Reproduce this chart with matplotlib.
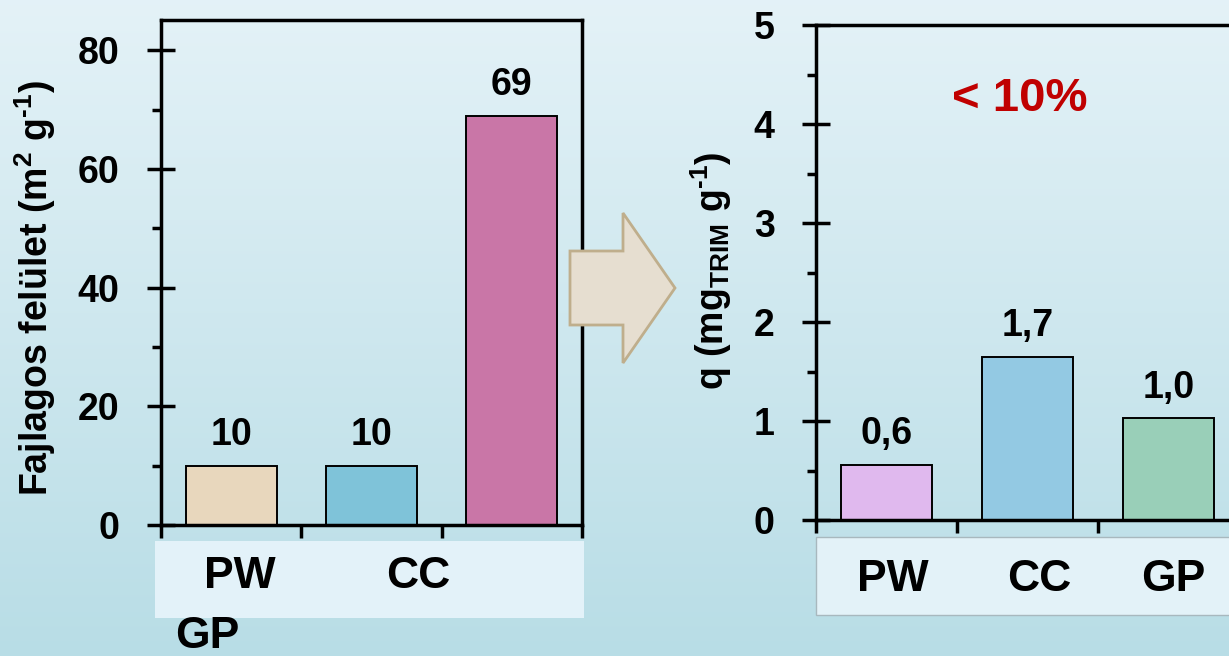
import matplotlib
matplotlib.use("Agg")
import matplotlib.pyplot as plt
import matplotlib.transforms as mtransforms
import numpy as np
from matplotlib.patches import Rectangle, Polygon

plt.rcParams['font.family'] = ['Liberation Sans', 'DejaVu Sans']
plt.rcParams['font.weight'] = 'bold'
plt.rcParams['mathtext.fontset'] = 'custom'
plt.rcParams['mathtext.rm'] = 'Liberation Sans:bold'
plt.rcParams['mathtext.bf'] = 'Liberation Sans:bold'
plt.rcParams['mathtext.it'] = 'Liberation Sans:bold'
plt.rcParams['mathtext.default'] = 'bf'

# data
cats = ["PW", "CC", "GP"]
surface = [10, 10, 69]
surface_labels = ["10", "10", "69"]
q_values = [0.56, 1.65, 1.03]
q_labels = ["0,6", "1,7", "1,0"]
colors_left = ["#e8d7bd", "#7fc3d9", "#c976a7"]
colors_right = ["#e0b9ee", "#93c9e3", "#99cfb8"]

W, H = 1229, 656
fig = plt.figure(figsize=(W / 100, H / 100), dpi=100)


def fx(px):
    return px / W


def fy(py):
    return 1 - py / H


# gradient background
bg = fig.add_axes([0, 0, 1, 1], zorder=-10)
top = np.array([0.894, 0.949, 0.969])
bot = np.array([0.722, 0.867, 0.902])
t = np.linspace(0, 1, 256)[:, None]
grad = top[None, :] * (1 - t) + bot[None, :] * t
bg.imshow(grad[:, None, :], aspect='auto', extent=[0, 1, 0, 1])
bg.axis('off')

LW = 2.5
x = np.arange(len(cats))

# left chart
ax1 = fig.add_axes([fx(161), fy(525), fx(582) - fx(161), fy(20) - fy(525)])
ax1.patch.set_alpha(0)
ax1.bar(x, surface, width=0.65, color=colors_left, edgecolor='black', linewidth=1.4)
for i, (v, lbl) in enumerate(zip(surface, surface_labels)):
    ax1.annotate(lbl, (i, v), xytext=(0, 9), textcoords='offset points',
                 ha='center', va='bottom', fontsize=27, fontweight='bold')
ax1.set_xlim(-0.5, 2.5)
ax1.set_ylim(0, 85.1)
ax1.set_yticks([0, 20, 40, 60, 80])
ax1.set_yticks([10, 30, 50, 70], minor=True)
ax1.set_xticks([-0.5, 0.5, 1.5, 2.5])
ax1.set_xticklabels([])

# right chart
ax2 = fig.add_axes([fx(816), fy(520), fx(1239) - fx(816), fy(25) - fy(520)])
ax2.patch.set_alpha(0)
ax2.bar(x, q_values, width=0.645, color=colors_right, edgecolor='black', linewidth=1.4)
for i, (v, lbl) in enumerate(zip(q_values, q_labels)):
    ax2.annotate(lbl, (i, v), xytext=(0, 9), textcoords='offset points',
                 ha='center', va='bottom', fontsize=27, fontweight='bold')
ax2.set_xlim(-0.5, 2.5)
ax2.set_ylim(0, 5)
ax2.set_yticks([0, 1, 2, 3, 4, 5])
ax2.set_yticks([0.5, 1.5, 2.5, 3.5, 4.5], minor=True)
ax2.set_xticks(x)
ax2.set_xticklabels(cats)
ax2.set_xticks([-0.5, 0.5, 1.5, 2.5], minor=True)

for ax in (ax1, ax2):
    for s in ax.spines.values():
        s.set_linewidth(LW)
    ax.tick_params(axis='y', which='major', direction='inout', length=19.5, width=LW,
                   pad=20, labelsize=27)
    ax.tick_params(axis='y', which='minor', direction='out', length=6.5, width=LW)

ax1.tick_params(axis='x', which='major', direction='out', length=9.4, width=LW)
ax2.tick_params(axis='x', which='major', length=0, pad=28, labelsize=32)
ax2.tick_params(axis='x', which='minor', direction='out', length=9.4, width=LW)

# the labels sit a little right of the bar centres in the original
for lab, dx in zip(ax2.get_xticklabels(), [6, 12, 5]):
    lab.set_transform(lab.get_transform() +
                      mtransforms.ScaledTranslation(dx / 100, 0, fig.dpi_scale_trans))

# label boxes under the axes
fig.patches.append(Rectangle((fx(155), fy(618)), fx(584) - fx(155), fy(541) - fy(618),
                             transform=fig.transFigure, facecolor='#e3f2f9',
                             edgecolor='none', zorder=-1))
fig.patches.append(Rectangle((fx(816), fy(615)), fx(1240) - fx(816), fy(537) - fy(615),
                             transform=fig.transFigure, facecolor='#e3f2f8',
                             edgecolor='#a8b8be', linewidth=1, zorder=-1))

# left category labels (wrapped in the original)
fig.text(fx(240), fy(577), cats[0], ha='center', va='center', fontsize=32, fontweight='bold')
fig.text(fx(418), fy(577), cats[1], ha='center', va='center', fontsize=32, fontweight='bold')
fig.text(fx(207), fy(637), cats[2], ha='center', va='center', fontsize=32, fontweight='bold')

# axis titles
fig.text(fx(35), fy(288), r'Fajlagos felület (m$^{2}$ g$^{\text{-1}}$)', rotation=90,
         ha='center', va='center', fontsize=27, fontweight='bold')
fig.text(fx(711), fy(271), r'q (mg$_{TRIM}$ g$^{\text{-1}}$)', rotation=90,
         ha='center', va='center', fontsize=27, fontweight='bold')

# arrow between the charts
pts = [(570, 251), (623, 251), (623, 213), (675, 288), (623, 363), (623, 325), (570, 325)]
fig.patches.append(Polygon([(fx(a), fy(b)) for a, b in pts], closed=True,
                           transform=fig.transFigure, facecolor='#e6ded0',
                           edgecolor='#bfae8c', linewidth=2, zorder=5))

fig.text(fx(1020), fy(99), '< 10%', color='#c00000', ha='center', va='center',
         fontsize=34, fontweight='bold')

fig.savefig('out.png', dpi=100)
